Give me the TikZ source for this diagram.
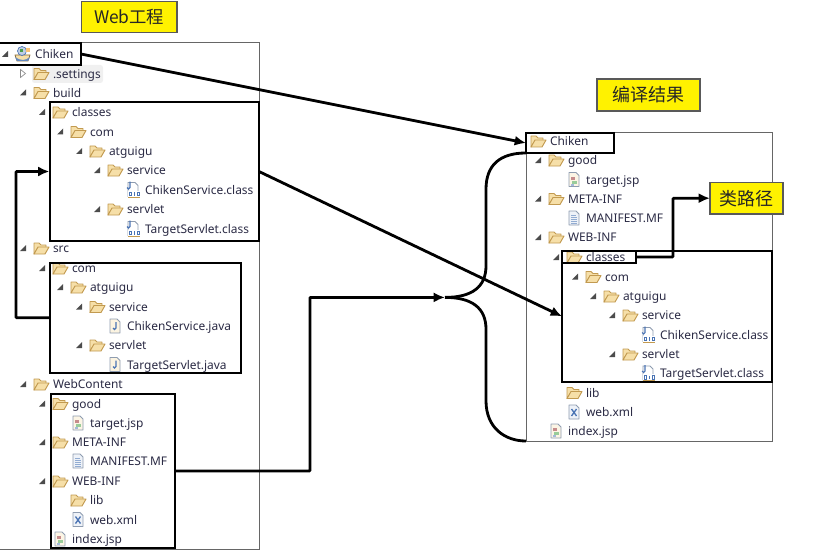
\documentclass[tikz,border=0pt]{standalone}
\usepackage{fontspec}
\setmainfont{Noto Sans}
\newfontfamily\cjk{Noto Sans CJK SC}
\usetikzlibrary{arrows.meta}
\definecolor{rowtext}{HTML}{2B2B45}
\definecolor{foldfill}{HTML}{F6DFA8}
\definecolor{foldedge}{HTML}{C29A50}
\definecolor{pageedge}{HTML}{8E9CB0}
\definecolor{pagefill}{HTML}{EEF2F8}
\definecolor{javablue}{HTML}{4A74B4}
\tikzset{
  x=0.75pt,y=-0.75pt,
  rowlabel/.style={anchor=base west,inner sep=0pt,outer sep=0pt,text=rowtext,font=\fontsize{8.95pt}{11pt}\selectfont},
  framebox/.style={draw=black,line width=1.5pt,inner sep=0pt,outer sep=0pt},
  panelbox/.style={draw=black!60,line width=0.7pt,inner sep=0pt,outer sep=0pt},
  titlebox/.style={draw=black!65,line width=0.9pt,fill=yellow,inner sep=0pt,outer sep=0pt,font=\cjk\fontsize{13.5pt}{15pt}\selectfont,text=black!85},
  link/.style={draw=black,line width=2.1pt,rounded corners=0.6pt},
  linkarrow/.style={link,-{Latex[length=8.5pt,width=7.5pt]}},
  open/.pic={\fill[black!70] (3,-3) -- (3,3) -- (-3,3) -- cycle;},
  closed/.pic={\draw[black!45,fill=white,line width=0.5pt] (-2.5,-4) -- (2.5,0) -- (-2.5,4) -- cycle;},
  noexp/.pic={},
  folder/.pic={
    \draw[foldedge,fill=foldfill,line width=0.7pt,line join=round] (-7,6) -- (-7,-5) -- (-2,-5) -- (0,-3) -- (5,-3) -- (5,0) -- (-3,0) -- cycle;
    \draw[foldedge,fill=foldfill,line width=0.7pt,line join=round] (-7,6) -- (-3,-1) -- (8,-1) -- (4,6) -- cycle;
  },
  project/.pic={
    \draw[foldedge!70!black,fill=foldfill,line width=0.5pt] (-8,1) -- (7,1) -- (5,7) -- (-6,7) -- cycle;
    \fill[javablue!85] (-8,3) .. controls (-2,7) and (2,7) .. (7,3) -- (5,7) -- (-6,7) -- cycle;
    \draw[javablue,fill=javablue!35,line width=0.5pt] (-1,-3) circle (4.5);
    \fill[green!45!black!70] (-3,-5) rectangle (0,-2);
    \fill[foldfill!70!orange] (3,-6) rectangle (7,-2);
  },
  sheet/.pic={\draw[pageedge,fill=pagefill,line width=0.6pt,line join=round] (-5,-7) -- (2,-7) -- (5,-4) -- (5,7) -- (-5,7) -- cycle;},
  javafile/.pic={
    \draw[pageedge,fill=foldfill!35!white,line width=0.6pt,line join=round] (-5,-7) -- (2,-7) -- (5,-4) -- (5,7) -- (-5,7) -- cycle;
    \draw[javablue,line width=1pt] (1,-4) -- (1,2) .. controls (1,4) and (-2,4) .. (-2,2);
  },
  classfile/.pic={
    \draw[pageedge,fill=white,line width=0.6pt] (-5,-7) -- (2,-7) -- (5,-4) -- (5,7) -- (-5,7) -- cycle;
    \draw[javablue,line width=0.8pt] (-3,-8) -- (-3,-2) .. controls (-3,0) and (-6,0) .. (-6,-2);
    \fill[white] (-5,1) rectangle (8,7);
    \draw[javablue,line width=0.6pt] (-3.5,2.5) rectangle (-1.5,6) (1.5,2.5) -- (1.5,6) (4.5,2.5) rectangle (6.5,6);
    \draw[foldedge,line width=0.7pt] (-5,7.5) -- (7,7.5);
  },
  manifest/.pic={
    \pic {sheet};
    \draw[javablue!60,line width=0.6pt] (-3,-3) -- (2,-3) (-3,-1) -- (3,-1) (-3,1) -- (3,1) (-3,3) -- (3,3) (-3,5) -- (3,5);
  },
  jspfile/.pic={
    \draw[pageedge,fill=foldfill!30!white,line width=0.6pt,line join=round] (-5,-7) -- (2,-7) -- (5,-4) -- (5,7) -- (-5,7) -- cycle;
    \fill[red!50!black!45] (-3,-3) rectangle (1,0);
    \fill[green!50!black!40] (-2,1) rectangle (3,4);
    \fill[javablue!50] (-3,4) rectangle (0,6);
  },
  xmlfile/.pic={
    \pic {sheet};
    \draw[javablue,line width=1pt] (-2.5,-3) -- (2.5,4) (2.5,-3) -- (-2.5,4);
  }
}
% One line of a file tree: name, text x, row centre y, icon, expander, label
\newcommand{\treerow}[6]{%
  \pic at ({#2-30},{#3}) {#5};
  \pic at ({#2-12},{#3}) {#4};
  \node[rowlabel] (#1) at ({#2},{#3+4.7}) {#6};
}
% Rectangle given by its two corners in pixels
\newcommand{\cornerbox}[6]{%
  \node[#2,minimum width={(#5-#3)*0.75pt},minimum height={(#6-#4)*0.75pt}] (#1) at ({(#3+#5)/2},{(#4+#6)/2}) {};
}
\begin{document}
\begin{tikzpicture}
\useasboundingbox[fill=white] (0,0) rectangle (820,556);

% Panels
\cornerbox{leftpanel}{panelbox}{-4}{42}{259}{549}
\cornerbox{rightpanel}{panelbox}{526}{132.5}{772}{441}

% Left tree
\fill[black!6,rounded corners=2pt] (32,65) rectangle (103,83);
\pic at (23,54) {project};
\pic at (5,54) {open};
\node[rowlabel] (lChiken) at (35,58.7) {Chiken};
\treerow{lSettings}{53}{73.5}{folder}{closed}{.settings}
\treerow{lBuild}{53}{92.5}{folder}{open}{build}
\treerow{lClasses}{72}{112}{folder}{open}{classes}
\treerow{lCom}{90}{131.5}{folder}{open}{com}
\treerow{lAtguigu}{109}{151}{folder}{open}{atguigu}
\treerow{lService}{127}{170}{folder}{open}{service}
\treerow{lServiceClass}{145}{189.5}{classfile}{noexp}{ChikenService.class}
\treerow{lServlet}{127}{209}{folder}{open}{servlet}
\treerow{lServletClass}{145}{228.5}{classfile}{noexp}{TargetServlet.class}
\treerow{lSrc}{53}{248}{folder}{open}{src}
\treerow{lSrcCom}{72}{268}{folder}{open}{com}
\treerow{lSrcAtguigu}{90}{287}{folder}{open}{atguigu}
\treerow{lSrcService}{109}{306.5}{folder}{open}{service}
\treerow{lServiceJava}{127}{326}{javafile}{noexp}{ChikenService.java}
\treerow{lSrcServlet}{109}{345}{folder}{open}{servlet}
\treerow{lServletJava}{127}{364.5}{javafile}{noexp}{TargetServlet.java}
\treerow{lWebContent}{53}{384}{folder}{open}{WebContent}
\treerow{lGood}{72}{403.5}{folder}{open}{good}
\treerow{lTarget}{90}{423}{jspfile}{noexp}{target.jsp}
\treerow{lMeta}{72}{442}{folder}{open}{META-INF}
\treerow{lManifest}{90}{461}{manifest}{noexp}{MANIFEST.MF}
\treerow{lWebInf}{72}{481}{folder}{open}{WEB-INF}
\treerow{lLib}{90}{500}{folder}{noexp}{lib}
\treerow{lWebXml}{90}{519.5}{xmlfile}{noexp}{web.xml}
\treerow{lIndex}{72}{539}{jspfile}{noexp}{index.jsp}

% Right tree
\treerow{rChiken}{550}{141}{folder}{noexp}{Chiken}
\treerow{rGood}{568}{160}{folder}{open}{good}
\treerow{rTarget}{586}{179.5}{jspfile}{noexp}{target.jsp}
\treerow{rMeta}{568}{198.5}{folder}{open}{META-INF}
\treerow{rManifest}{586}{218}{manifest}{noexp}{MANIFEST.MF}
\treerow{rWebInf}{568}{237}{folder}{open}{WEB-INF}
\treerow{rClasses}{586}{257}{folder}{open}{classes}
\treerow{rCom}{605}{276.5}{folder}{open}{com}
\treerow{rAtguigu}{623}{296}{folder}{open}{atguigu}
\treerow{rService}{642}{315}{folder}{open}{service}
\treerow{rServiceClass}{660}{334.5}{classfile}{noexp}{ChikenService.class}
\treerow{rServlet}{642}{354}{folder}{open}{servlet}
\treerow{rServletClass}{660}{373}{classfile}{noexp}{TargetServlet.class}
\treerow{rLib}{586}{392.5}{folder}{noexp}{lib}
\treerow{rWebXml}{586}{412}{xmlfile}{noexp}{web.xml}
\treerow{rIndex}{568}{431}{jspfile}{noexp}{index.jsp}

% Highlight frames
\cornerbox{lRootBox}{framebox}{-4}{43}{81}{65}
\cornerbox{lClassesBox}{framebox}{49.5}{102}{259}{241}
\cornerbox{lSrcBox}{framebox}{49.5}{262.5}{241}{373}
\cornerbox{lWebBox}{framebox}{50.5}{394}{174.5}{548}
\cornerbox{rRootBox}{framebox}{526}{133}{613.5}{153}
\cornerbox{rClassesBox}{framebox}{562}{251}{772}{381.7}
\cornerbox{rClassesTag}{framebox}{562}{251}{636}{263}

% Titles
\node[titlebox,minimum width=71.6pt,minimum height=23.2pt,font=\cjk\fontsize{13pt}{15pt}\selectfont] (webTitle) at (129.2,17) {Web工程};
\node[titlebox,minimum width=77.2pt,minimum height=24pt] (resultTitle) at (648.5,95) {编译结果};
\node[titlebox,minimum width=54.8pt,minimum height=23.6pt] (pathTitle) at (746.5,198.2) {类路径};

% Connectors
\coordinate (merge) at (445,297.4);
\draw[linkarrow] (lRootBox.east) -- (rRootBox.west);
\draw[linkarrow] (lClassesBox.east) -- (rClassesBox.west);
\draw[linkarrow] (lSrcBox.west) -- (16,317.8) -- (16,171.5) -- (lClassesBox.west);
\draw[linkarrow] (lWebBox.east) -- (310,471) -- (310,297.4) -- (merge);
\draw[link] (merge) .. controls (472,297.4) and (486,287) .. (486,265) -- (486,190) .. controls (486,165) and (500,153) .. (rRootBox.south west);
\draw[link] (merge) .. controls (472,297.4) and (486,308) .. (486,330) -- (486,400) .. controls (486,428) and (505,441) .. (rightpanel.south west);
\draw[linkarrow] (rClassesTag.east) -- (673,257) -- (673,198.2) -- (pathTitle.west);
\end{tikzpicture}
\end{document}
